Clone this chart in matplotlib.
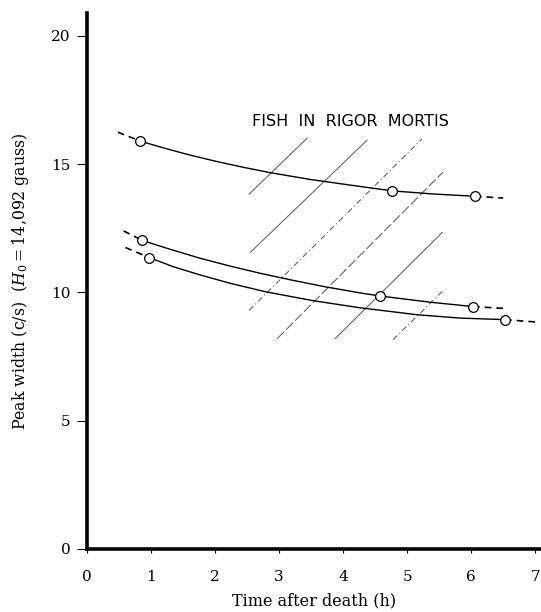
import numpy as np
import matplotlib
matplotlib.use('Agg')
import matplotlib.pyplot as plt

plt.rcParams['font.family'] = ['DejaVu Serif']
plt.rcParams['mathtext.fontset'] = 'dejavuserif'

# measured points (open circles)
top_pts_x = [0.83, 4.77, 6.06]
top_pts_y = [15.9, 13.95, 13.75]
mid_pts_x = [0.86, 4.58, 6.03]
mid_pts_y = [12.03, 9.86, 9.45]
low_pts_x = [0.97, 6.53]
low_pts_y = [11.36, 8.94]

# hand drawn curves
top_curve_x = [0.83, 1.2, 1.6, 2.0, 2.4, 2.86, 3.5, 4.27, 4.77, 5.4, 6.06]
top_curve_y = [15.9, 15.63, 15.36, 15.12, 14.9, 14.67, 14.4, 14.13, 13.96, 13.84, 13.75]
mid_curve_x = [0.86, 1.3, 1.77, 2.23, 2.7, 3.2, 3.7, 4.27, 4.58, 5.36, 6.03]
mid_curve_y = [12.03, 11.68, 11.33, 11.03, 10.75, 10.48, 10.23, 9.98, 9.86, 9.62, 9.45]
low_curve_x = [0.97, 1.35, 1.77, 2.23, 2.8, 3.53, 4.27, 5.16, 5.83, 6.53]
low_curve_y = [11.36, 11.0, 10.68, 10.36, 10.02, 9.68, 9.4, 9.13, 9.0, 8.94]

# dashed extrapolations
top_ext = ([0.48, 0.83], [16.25, 15.9]), ([6.06, 6.5], [13.75, 13.68])
mid_ext = ([0.57, 0.86], [12.4, 12.03]), ([6.03, 6.5], [9.45, 9.38])
low_ext = ([0.6, 0.97], [11.75, 11.36]), ([6.53, 7.0], [8.94, 8.85])

# rigor mortis hatching (start x, start y, end x, end y)
hatch_x0 = [2.53, 2.55, 2.53, 2.97, 3.875, 4.78]
hatch_y0 = [13.83, 11.56, 9.30, 8.20, 8.20, 8.16]
hatch_x1 = [3.44, 4.375, 5.23, 5.56, 5.55, 5.55]
hatch_y1 = [16.02, 15.94, 15.98, 14.69, 12.34, 10.04]
hatch_ls = ['-', '-', (0, (6, 3, 1, 3)), (0, (10, 3)), '-', (0, (6, 3, 1, 3))]

fig = plt.figure(figsize=(5.41, 6.12), dpi=100)
ax = fig.add_axes([0.161, 0.103, 0.84, 0.876])

for xs, ys in [(top_curve_x, top_curve_y), (mid_curve_x, mid_curve_y), (low_curve_x, low_curve_y)]:
    ax.plot(xs, ys, color='black', lw=1.0, zorder=3)

for ext in [top_ext, mid_ext, low_ext]:
    for xs, ys in ext:
        ax.plot(xs, ys, color='black', lw=1.2, ls=(0, (4, 3)), zorder=3)

for px, py in [(top_pts_x, top_pts_y), (mid_pts_x, mid_pts_y), (low_pts_x, low_pts_y)]:
    ax.plot(px, py, 'o', ms=7, mfc='white', mec='black', mew=0.9, zorder=4)

for i in range(len(hatch_x0)):
    ax.plot([hatch_x0[i], hatch_x1[i]], [hatch_y0[i], hatch_y1[i]],
            color='#555555', lw=0.7, ls=hatch_ls[i], zorder=2)

ax.text(4.11, 16.68, 'FISH  IN  RIGOR  MORTIS', ha='center', va='center',
        fontsize=11.5, family='DejaVu Sans')

ax.set_xlim(0, 7.1)
ax.set_ylim(0, 20.9)
ax.set_xticks(range(8))
ax.set_yticks([0, 5, 10, 15, 20])
ax.spines['top'].set_visible(False)
ax.spines['right'].set_visible(False)
ax.spines['left'].set_linewidth(2.6)
ax.spines['bottom'].set_linewidth(2.6)
ax.tick_params(axis='y', direction='out', length=7, width=0.8, labelsize=11, pad=5)
ax.tick_params(axis='x', direction='out', length=3, width=0.8, labelsize=11, pad=12)

ax.set_xlabel('Time after death (h)', fontsize=11.5, labelpad=6)
ax.set_ylabel(r'Peak width (c/s)  ($H_0 = 14{,}092$ gauss)', fontsize=11.3, labelpad=14)

fig.savefig('out.png', dpi=100)
